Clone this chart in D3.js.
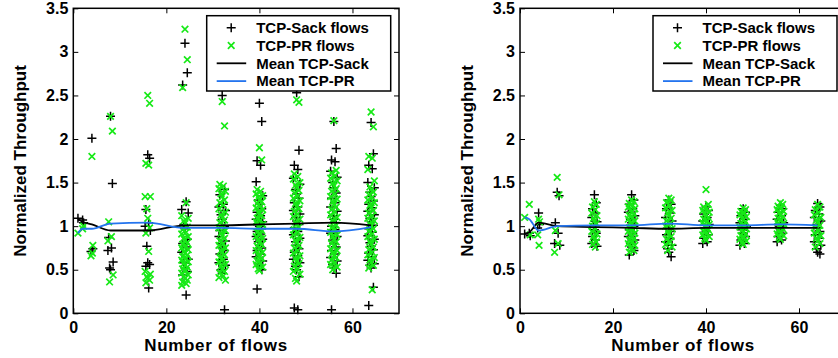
<!DOCTYPE html>
<html>
<head>
<meta charset="utf-8">
<script src="https://cdn.jsdelivr.net/npm/d3@7"></script>
<style>
  body { margin: 0; background: #fff; }
  svg { display: block; }
  text { font-family: "Liberation Sans", Arial, sans-serif; font-weight: bold; fill: #000; }
</style>
</head>
<body>
<svg width="838" height="358"></svg>
<script>
const FLOWS = [1, 2, 4, 8, 16, 24, 32, 40, 48, 56, 64]
const X_TICKS = [0, 20, 40, 60]
const Y_TICKS = [0, 0.5, 1, 1.5, 2, 2.5, 3, 3.5]
const LEGEND_LABELS = ["TCP-Sack flows", "TCP-PR flows", "Mean TCP-Sack", "Mean TCP-PR"]

// left panel: normalized throughput of each flow, one list per flow count
const sackLeft = [
  [1.09],
  [1.07, 1.04],
  [2.01, 0.74, 0.71],
  [2.26, 1.49, 0.87, 0.75, 0.72, 0.59, 0.52, 0.5],
  [1.82, 1.78, 1.19, 1.04, 1.0, 0.95, 0.77, 0.58, 0.56, 0.54, 0.29],
  [3.1, 2.76, 2.62, 1.28, 1.19, 1.15, 1.02, 0.97, 0.85, 0.8, 0.76, 0.7, 0.62, 0.58, 0.52, 0.48, 0.44, 0.21],
  [2.5, 1.42, 1.36, 1.25, 1.22, 1.18, 1.13, 1.08, 1.0, 0.95, 0.92, 0.88, 0.83, 0.8, 0.75, 0.72, 0.68, 0.62, 0.58, 0.55, 0.5, 0.46, 0.04],
  [2.41, 2.2, 1.75, 1.7, 1.51, 1.35, 1.3, 1.25, 1.2, 1.16, 1.12, 1.08, 1.05, 1.02, 1.0, 0.97, 0.94, 0.91, 0.88, 0.85, 0.82, 0.78, 0.75, 0.72, 0.68, 0.65, 0.6, 0.57, 0.54, 0.5, 0.28],
  [2.53, 1.87, 1.7, 1.65, 1.55, 1.48, 1.42, 1.37, 1.32, 1.27, 1.22, 1.18, 1.14, 1.1, 1.06, 1.02, 0.98, 0.94, 0.9, 0.86, 0.82, 0.78, 0.74, 0.7, 0.66, 0.62, 0.58, 0.54, 0.5, 0.42, 0.06, 0.04],
  [2.2, 1.89, 1.76, 1.74, 1.63, 1.56, 1.5, 1.44, 1.38, 1.32, 1.27, 1.22, 1.17, 1.12, 1.08, 1.04, 1.0, 0.96, 0.92, 0.88, 0.84, 0.8, 0.76, 0.72, 0.68, 0.64, 0.6, 0.56, 0.52, 0.46, 0.04],
  [2.19, 1.83, 1.7, 1.66, 1.5, 1.44, 1.39, 1.34, 1.29, 1.25, 1.21, 1.17, 1.13, 1.09, 1.05, 1.01, 0.97, 0.93, 0.89, 0.85, 0.81, 0.77, 0.73, 0.69, 0.65, 0.61, 0.57, 0.55, 0.52, 0.3, 0.09]
]
const prLeft = [
  [0.92],
  [0.97, 1.0],
  [1.8, 0.78, 0.66, 0.69],
  [2.26, 2.09, 1.05, 0.88, 0.83, 0.44, 0.36],
  [2.5, 2.41, 1.72, 1.7, 1.34, 1.34, 1.2, 1.09, 0.98, 0.92, 0.71, 0.48, 0.45, 0.42, 0.4, 0.38, 0.35],
  [3.26, 2.91, 2.59, 1.27, 1.12, 1.09, 1.06, 1.03, 0.99, 0.96, 0.93, 0.91, 0.88, 0.86, 0.84, 0.81, 0.79, 0.77, 0.75, 0.73, 0.71, 0.69, 0.67, 0.65, 0.63, 0.61, 0.59, 0.57, 0.55, 0.53, 0.51, 0.49, 0.46, 0.44, 0.42, 0.4, 0.38, 0.36, 0.34, 0.32],
  [2.43, 2.15, 1.48, 1.46, 1.43, 1.4, 1.37, 1.34, 1.3, 1.27, 1.24, 1.2, 1.16, 1.13, 1.1, 1.07, 1.04, 1.01, 0.98, 0.95, 0.92, 0.89, 0.86, 0.83, 0.8, 0.78, 0.75, 0.72, 0.7, 0.67, 0.64, 0.62, 0.59, 0.56, 0.54, 0.51, 0.48, 0.46, 0.43, 0.41, 0.38],
  [1.9, 1.76, 1.42, 1.4, 1.37, 1.35, 1.33, 1.3, 1.28, 1.26, 1.23, 1.21, 1.19, 1.16, 1.14, 1.12, 1.09, 1.07, 1.05, 1.02, 1.0, 0.98, 0.95, 0.93, 0.91, 0.88, 0.86, 0.84, 0.81, 0.79, 0.77, 0.74, 0.72, 0.7, 0.67, 0.65, 0.63, 0.6, 0.58, 0.56, 0.53, 0.51, 0.49],
  [2.45, 2.42, 1.6, 1.57, 1.54, 1.5, 1.47, 1.44, 1.41, 1.38, 1.35, 1.32, 1.29, 1.26, 1.23, 1.2, 1.17, 1.14, 1.11, 1.08, 1.05, 1.02, 0.99, 0.96, 0.93, 0.9, 0.87, 0.84, 0.81, 0.78, 0.75, 0.72, 0.69, 0.66, 0.63, 0.6, 0.57, 0.54, 0.51, 0.48, 0.45, 0.4, 0.37],
  [2.21, 1.64, 1.61, 1.58, 1.55, 1.52, 1.49, 1.46, 1.43, 1.4, 1.37, 1.34, 1.31, 1.28, 1.25, 1.22, 1.19, 1.16, 1.13, 1.1, 1.07, 1.04, 1.01, 0.98, 0.96, 0.93, 0.9, 0.88, 0.85, 0.82, 0.8, 0.77, 0.74, 0.72, 0.69, 0.66, 0.64, 0.61, 0.58, 0.56, 0.53, 0.5],
  [2.31, 2.14, 1.8, 1.78, 1.65, 1.52, 1.45, 1.42, 1.39, 1.36, 1.33, 1.3, 1.27, 1.24, 1.21, 1.18, 1.15, 1.12, 1.09, 1.06, 1.03, 1.0, 0.97, 0.94, 0.91, 0.88, 0.85, 0.82, 0.79, 0.76, 0.73, 0.7, 0.67, 0.64, 0.61, 0.58, 0.55, 0.52, 0.27]
]
const sackMeanLeft = [1.08, 1.05, 1.02, 0.95, 0.95, 1.01, 1.01, 1.02, 1.03, 1.04, 1.01]
const prMeanLeft = [0.92, 0.97, 0.97, 1.03, 1.04, 0.98, 0.98, 0.97, 0.97, 0.94, 0.99]

// right panel
const sackRight = [
  [0.91],
  [0.92, 0.89],
  [1.15, 1.02, 0.98],
  [1.39, 1.35, 1.04, 0.92, 0.8, 0.78],
  [1.36, 1.27, 1.2, 1.15, 1.1, 1.05, 1.0, 0.96, 0.92, 0.88, 0.84, 0.8, 0.77],
  [1.36, 1.3, 1.25, 1.2, 1.16, 1.12, 1.08, 1.04, 1.0, 0.96, 0.92, 0.88, 0.84, 0.8, 0.76, 0.72, 0.67],
  [1.3, 1.25, 1.2, 1.15, 1.1, 1.06, 1.02, 0.98, 0.94, 0.9, 0.86, 0.82, 0.78, 0.74, 0.7, 0.65],
  [1.22, 1.18, 1.14, 1.1, 1.06, 1.02, 0.98, 0.94, 0.9, 0.86, 0.82, 0.8],
  [1.2, 1.16, 1.12, 1.08, 1.04, 1.0, 0.96, 0.92, 0.88, 0.84, 0.8, 0.78],
  [1.24, 1.2, 1.16, 1.12, 1.08, 1.04, 1.0, 0.96, 0.92, 0.88, 0.84, 0.82],
  [1.26, 1.22, 1.18, 1.14, 1.1, 1.06, 1.02, 0.98, 0.94, 0.9, 0.86, 0.82, 0.78, 0.74, 0.7, 0.68]
]
const prRight = [
  [1.1],
  [1.25, 0.9],
  [1.08, 1.05, 0.9, 0.78],
  [1.56, 1.36, 0.95, 0.8, 0.7],
  [1.28, 1.25, 1.22, 1.19, 1.15, 1.12, 1.09, 1.06, 1.03, 1.0, 0.97, 0.94, 0.91, 0.88, 0.85, 0.82, 0.79, 0.76],
  [1.3, 1.28, 1.26, 1.24, 1.22, 1.2, 1.18, 1.16, 1.14, 1.12, 1.1, 1.08, 1.06, 1.04, 1.02, 1.0, 0.98, 0.96, 0.94, 0.92, 0.9, 0.88, 0.86, 0.84, 0.82, 0.8, 0.78, 0.76, 0.74, 0.72, 0.7],
  [1.32, 1.3, 1.27, 1.24, 1.21, 1.18, 1.15, 1.12, 1.09, 1.06, 1.03, 1.0, 0.97, 0.94, 0.91, 0.88, 0.85, 0.82, 0.79, 0.76, 0.72],
  [1.42, 1.25, 1.22, 1.2, 1.18, 1.16, 1.14, 1.12, 1.1, 1.08, 1.06, 1.04, 1.02, 1.0, 0.98, 0.96, 0.94, 0.92, 0.9, 0.88, 0.86, 0.84],
  [1.21, 1.19, 1.17, 1.15, 1.13, 1.11, 1.09, 1.07, 1.05, 1.03, 1.01, 0.99, 0.97, 0.95, 0.93, 0.91, 0.89, 0.87, 0.85, 0.83, 0.81, 0.79],
  [1.27, 1.25, 1.23, 1.21, 1.19, 1.17, 1.15, 1.13, 1.11, 1.09, 1.07, 1.05, 1.03, 1.01, 0.99, 0.97, 0.95, 0.93, 0.91, 0.89, 0.87, 0.85],
  [1.25, 1.22, 1.19, 1.16, 1.13, 1.1, 1.07, 1.04, 1.01, 0.98, 0.95, 0.92, 0.89, 0.86, 0.83, 0.8, 0.76]
]
const sackMeanRight = [0.91, 0.93, 1.04, 1.0, 0.99, 0.98, 0.97, 0.98, 0.98, 0.98, 0.98]
const prMeanRight = [1.1, 1.08, 0.95, 1.0, 1.01, 1.01, 1.03, 1.01, 1.01, 1.02, 1.01]

const GREEN = "#16e916"
const BLUE = "#2474ee"
// small horizontal spread so overlapping flows stay visible
const JITTER = [0, 0.5, -0.5, 0.25, -0.7, 0.7, -0.25]
const TOP = 8.3
const BOTTOM = 313.3

const svg = d3.select("svg")

const toPoints = (groups) => {
  const pts = []
  groups.forEach((vals, gi) => {
    const spread = FLOWS[gi] <= 4 ? 0.4 : FLOWS[gi] <= 16 ? 0.8 : 1
    vals.forEach((v, i) => pts.push({ x: FLOWS[gi] + JITTER[i % JITTER.length] * spread, y: v }))
  })
  return pts
}

const plusPath = (r) => `M${-r},0H${r}M0,${-r}V${r}`
const crossPath = (r) => `M${-r},${-r}L${r},${r}M${-r},${r}L${r},${-r}`

const drawPanel = (left, right, sack, pr, sackMean, prMean, legendX, titleX) => {
  const x = d3.scaleLinear().domain([0, 70]).range([left, right])
  const y = d3.scaleLinear().domain([0, 3.5]).range([BOTTOM, TOP])
  const g = svg.append("g")

  const line = d3.line().x((d, i) => x(FLOWS[i])).y((d) => y(d)).curve(d3.curveMonotoneX)

  g.selectAll(".sack")
    .data(toPoints(sack))
    .enter()
    .append("path")
    .attr("d", plusPath(4.5))
    .attr("transform", (d) => `translate(${x(d.x)},${y(d.y)})`)
    .attr("stroke", "#000")
    .attr("stroke-width", 1.5)

  g.selectAll(".pr")
    .data(toPoints(pr))
    .enter()
    .append("path")
    .attr("d", crossPath(3.3))
    .attr("transform", (d) => `translate(${x(d.x)},${y(d.y)})`)
    .attr("stroke", GREEN)
    .attr("stroke-width", 1.7)

  // mean lines
  g.append("path").datum(sackMean).attr("d", line)
    .attr("fill", "none").attr("stroke", "#000").attr("stroke-width", 1.8)
  g.append("path").datum(prMean).attr("d", line)
    .attr("fill", "none").attr("stroke", BLUE).attr("stroke-width", 1.8)

  // axes, ticks pointing inward on all four sides
  g.append("g").attr("transform", `translate(0,${BOTTOM})`)
    .call(d3.axisBottom(x).tickValues(X_TICKS).tickSize(-5).tickPadding(8))
  g.append("g").attr("transform", `translate(0,${TOP})`)
    .call(d3.axisTop(x).tickValues(X_TICKS).tickSize(-5).tickFormat(""))
  g.append("g").attr("transform", `translate(${left},0)`)
    .call(d3.axisLeft(y).tickValues(Y_TICKS).tickSize(-5).tickPadding(5).tickFormat((d) => d))
  g.append("g").attr("transform", `translate(${right},0)`)
    .call(d3.axisRight(y).tickValues(Y_TICKS).tickSize(-5).tickFormat(""))
  g.selectAll(".domain").remove()
  g.selectAll(".tick line").attr("stroke", "#000").attr("stroke-width", 1)
  g.selectAll(".tick text").style("font-size", "16px").style("font-weight", "bold")
    .style("font-family", "'Liberation Sans', Arial, sans-serif").attr("fill", "#000")

  g.append("rect")
    .attr("x", left).attr("y", TOP)
    .attr("width", right - left).attr("height", BOTTOM - TOP)
    .attr("fill", "none").attr("stroke", "#000").attr("stroke-width", 1.5)

  // titles
  g.append("text")
    .attr("x", titleX).attr("y", 350.5)
    .attr("text-anchor", "middle")
    .style("font-size", "17px").style("letter-spacing", "0.7px")
    .text("Number of flows")
  g.append("text")
    .attr("transform", `translate(${left - 47},${161}) rotate(-90)`)
    .attr("text-anchor", "middle")
    .style("font-size", "17px")
    .text("Normalized Throughput")

  // legend
  const legend = g.append("g").attr("transform", `translate(${legendX},15.7)`)
  legend.append("rect")
    .attr("width", 184).attr("height", 75.3)
    .attr("fill", "#fff").attr("stroke", "#000").attr("stroke-width", 1.5)
  LEGEND_LABELS.forEach((label, i) => {
    const cy = 12 + i * 17.8
    const row = legend.append("g").attr("transform", `translate(0,${cy})`)
    if (i === 0) {
      row.append("path").attr("d", plusPath(4.5)).attr("transform", "translate(24.5,0)")
        .attr("stroke", "#000").attr("stroke-width", 1.5)
    } else if (i === 1) {
      row.append("path").attr("d", crossPath(3.3)).attr("transform", "translate(24.5,0)")
        .attr("stroke", GREEN).attr("stroke-width", 1.7)
    } else {
      row.append("line").attr("x1", 10).attr("x2", 39.5)
        .attr("stroke", i === 2 ? "#000" : BLUE).attr("stroke-width", 1.8)
    }
    row.append("text").attr("x", 49.5).attr("y", 5.3)
      .style("font-size", "15px").text(label)
  })
}

drawPanel(73.3, 399, sackLeft, prLeft, sackMeanLeft, prMeanLeft, 206.7, 216)
drawPanel(520, 845.5, sackRight, prRight, sackMeanRight, prMeanRight, 653, 683)
</script>
</body>
</html>
